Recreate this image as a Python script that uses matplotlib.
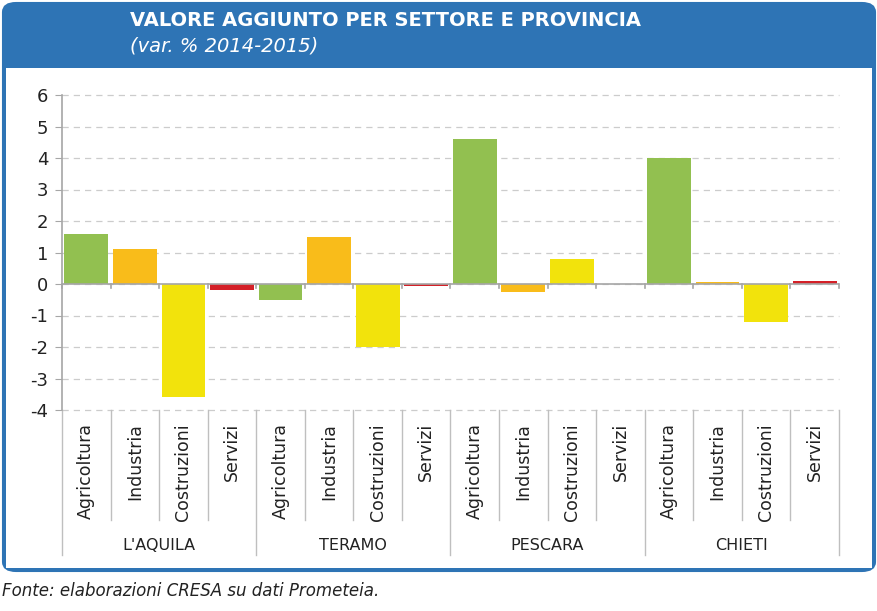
import matplotlib
matplotlib.use("Agg")
import matplotlib.pyplot as plt
import numpy as np
from matplotlib.patches import FancyBboxPatch, Rectangle
from matplotlib.lines import Line2D

plt.rcParams["axes.unicode_minus"] = False

provinces = ["L'AQUILA", "TERAMO", "PESCARA", "CHIETI"]
sectors = ["Agricoltura", "Industria", "Costruzioni", "Servizi"]
laquila = [1.6, 1.1, -3.6, -0.2]
teramo = [-0.5, 1.5, -2.0, -0.05]
pescara = [4.6, -0.25, 0.8, 0.0]
chieti = [4.0, 0.05, -1.2, 0.1]
sector_colors = ["#92C050", "#F9BC1A", "#F2E30C", "#D42027"]

values = laquila + teramo + pescara + chieti
colors = sector_colors * len(provinces)
n = len(values)
x = np.arange(n)

W, H = 878, 611
fig = plt.figure(figsize=(W / 100, H / 100), dpi=100)

def fx(px):
    return px / W

def fy(py):
    return 1 - py / H

blue = "#2E74B5"
# frame + header
fig.patches.append(FancyBboxPatch((fx(3), fy(571)), fx(872), fy(3) - fy(571),
                                  boxstyle="round,pad=0,rounding_size=0.015",
                                  transform=fig.transFigure, facecolor=blue,
                                  edgecolor=blue, lw=1.5, zorder=0))
fig.patches.append(Rectangle((fx(6), fy(568)), fx(866), fy(68) - fy(568),
                             transform=fig.transFigure, facecolor="white",
                             edgecolor="none", zorder=0.5))
fig.text(fx(130), fy(20), "VALORE AGGIUNTO PER SETTORE E PROVINCIA",
         color="white", fontsize=14, fontweight="bold", va="center", ha="left")
fig.text(fx(130), fy(46), "(var. % 2014-2015)", color="white", fontsize=14,
         style="italic", va="center", ha="left")
fig.text(fx(2), fy(591), "Fonte: elaborazioni CRESA su dati Prometeia.",
         fontsize=12, style="italic", color="#222222", va="center", ha="left")

ax = fig.add_axes([fx(62), fy(410), fx(839) - fx(62), fy(95) - fy(410)])
ax.set_zorder(2)
ax.patch.set_alpha(0)
ax.set_xlim(-0.5, n - 0.5)
ax.set_ylim(-4, 6)
ax.bar(x, values, width=0.9, color=colors, zorder=3)

grey = "#A6A6A6"
ax.set_yticks(range(-4, 7))
ax.yaxis.grid(True, linestyle=(0, (5, 4)), color="#CCCCCC", lw=0.9, zorder=0)
for gl in ax.get_ygridlines():
    gl.set_clip_on(False)
ax.axhline(0, color=grey, lw=1.2, zorder=4)
for s in ["top", "right", "bottom"]:
    ax.spines[s].set_visible(False)
ax.spines["left"].set_color(grey)
ax.spines["left"].set_linewidth(1.2)
ax.tick_params(axis="y", length=5, color=grey, labelsize=13, pad=5,
               labelcolor="#222222")
ax.set_xticks([])

# ticks on the zero line at category boundaries
for b in np.arange(n + 1) - 0.5:
    ax.plot([b, b], [0, -0.13], color=grey, lw=1.2, zorder=4, clip_on=False)

# multi-level category axis below the plot
trans = ax.get_xaxis_transform()
y_minor = -(520 - 410) / (410 - 95)
y_major = -(555 - 410) / (410 - 95)
for i in range(n + 1):
    b = i - 0.5
    yb = y_major if i % len(sectors) == 0 else y_minor
    ax.add_line(Line2D([b, b], [0, yb], transform=trans, color="#BFBFBF",
                       lw=1.0, clip_on=False))
for i in range(n):
    ax.text(x[i], -(423 - 410) / (410 - 95), sectors[i % len(sectors)], transform=trans,
            rotation=90, ha="center", va="top", fontsize=12.5, color="#222222")
for j, p in enumerate(provinces):
    cx = j * len(sectors) + (len(sectors) - 1) / 2
    ax.text(cx, -(546 - 410) / (410 - 95), p, transform=trans, ha="center",
            va="center", fontsize=11.5, color="#222222")

fig.savefig("out.png", dpi=100)
